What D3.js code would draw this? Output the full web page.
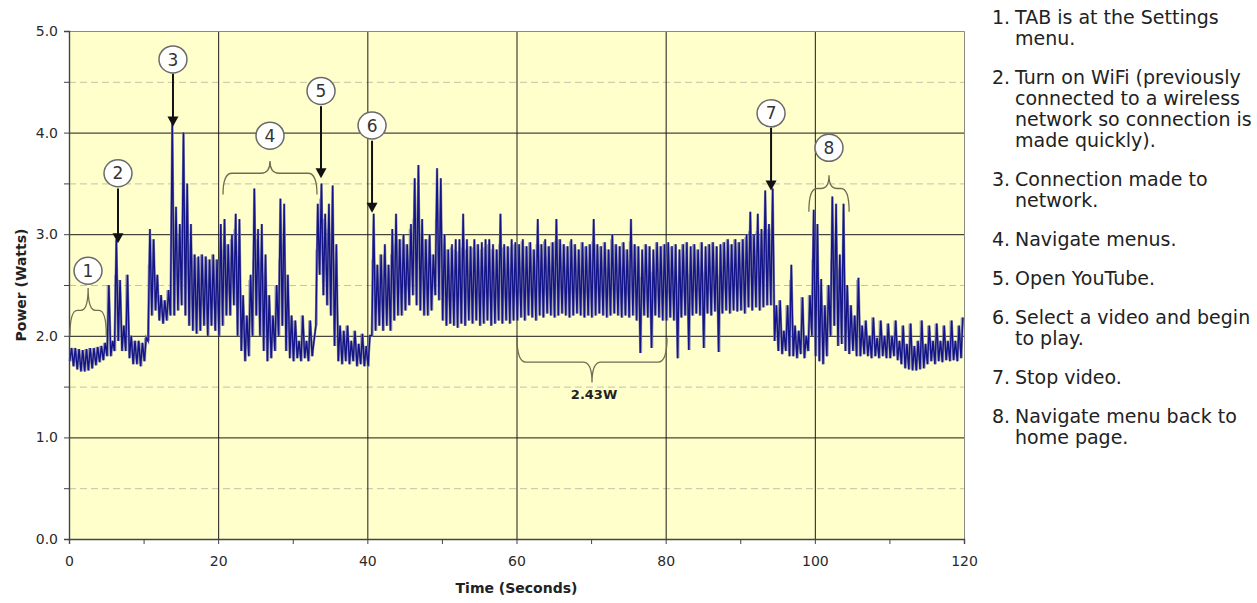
<!DOCTYPE html>
<html>
<head>
<meta charset="utf-8">
<script src="https://cdn.jsdelivr.net/npm/d3@7"></script>
<style>
  body { margin: 0; background: #fff; }
  svg { display: block; font-family: "DejaVu Sans", Verdana, sans-serif; }
</style>
</head>
<body>
<div id="chart"></div>
<script>
// Power trace in 0.5 s bins: a low and a high reading (W) for each bin
const binSeconds = 0.5;
const lowWatts = [
  1.75, 1.70, 1.67, 1.65, 1.65, 1.66, 1.68, 1.71, 1.74, 1.76, 1.80, 1.80, 1.85, 1.95, 1.85, 1.85, 1.78, 1.72, 1.72, 1.70,
  1.75, 1.95, 2.20, 2.25, 2.15, 2.12, 2.15, 2.20, 2.20, 2.25, 2.30, 2.20, 2.10, 2.05, 2.02, 2.05, 2.10, 2.00, 2.10, 2.05,
  2.00, 2.10, 2.20, 2.20, 2.30, 2.00, 1.85, 1.75, 1.80, 2.00, 2.20, 2.00, 1.85, 1.75, 1.78, 1.85, 2.00, 2.10, 1.85, 1.78,
  1.75, 1.78, 1.75, 1.78, 1.75, 1.80, 2.10, 2.60, 2.40, 2.30, 2.20, 1.90, 1.75, 1.72, 1.75, 1.72, 1.75, 1.70, 1.72, 1.70,
  1.70, 2.00, 2.05, 2.10, 2.05, 2.10, 2.05, 2.15, 2.20, 2.20, 2.25, 2.30, 2.40, 2.30, 2.25, 2.20, 2.20, 2.25, 2.40, 2.35,
  2.15, 2.10, 2.12, 2.10, 2.08, 2.12, 2.10, 2.15, 2.12, 2.15, 2.10, 2.12, 2.15, 2.10, 2.12, 2.15, 2.12, 2.15, 2.12, 2.15,
  2.15, 2.18, 2.15, 2.20, 2.18, 2.15, 2.20, 2.18, 2.22, 2.20, 2.18, 2.20, 2.22, 2.20, 2.18, 2.20, 2.22, 2.20, 2.18, 2.20,
  2.18, 2.20, 2.22, 2.20, 2.18, 2.20, 2.22, 2.20, 2.18, 2.20, 2.18, 2.20, 2.15, 1.83, 2.20, 2.18, 1.88, 2.20, 2.18, 2.15,
  2.15, 2.18, 2.15, 1.78, 2.18, 2.20, 1.86, 2.20, 2.22, 2.20, 1.88, 2.22, 2.20, 2.24, 1.84, 2.22, 2.25, 2.22, 2.25, 2.24,
  2.25, 2.22, 2.28, 2.25, 2.28, 2.25, 2.28, 2.30, 2.30, 1.95, 1.85, 1.82, 1.85, 1.80, 1.80, 1.78, 1.82, 1.78, 1.85, 2.00,
  1.80, 1.75, 1.72, 1.80, 2.00, 2.10, 1.90, 1.92, 1.85, 1.82, 1.85, 1.80, 1.80, 1.82, 1.80, 1.78, 1.80, 1.78, 1.80, 1.78,
  1.78, 1.80, 1.76, 1.72, 1.68, 1.67, 1.66, 1.66, 1.67, 1.68, 1.72, 1.75, 1.72, 1.75, 1.74, 1.76, 1.75, 1.76, 1.75, 1.78
];
const highWatts = [
  1.88, 1.88, 1.87, 1.86, 1.87, 1.88, 1.88, 1.89, 1.90, 1.93, 2.50, 1.95, 2.95, 2.55, 2.10, 2.60, 2.00, 1.95, 1.95, 1.93,
  1.98, 3.05, 2.95, 2.60, 2.40, 2.35, 2.45, 4.10, 3.27, 3.10, 4.00, 3.50, 3.10, 2.80, 2.78, 2.80, 2.78, 2.75, 2.80, 2.75,
  3.10, 3.15, 2.90, 3.00, 3.20, 3.15, 2.40, 2.20, 2.60, 3.45, 3.05, 3.10, 2.80, 2.40, 2.20, 2.50, 3.35, 3.30, 2.60, 2.20,
  2.15, 1.95, 2.20, 1.95, 2.15, 1.95, 3.30, 3.50, 3.20, 3.30, 3.48, 2.90, 2.10, 2.05, 2.10, 1.95, 2.05, 1.92, 2.02, 1.90,
  2.00, 3.20, 2.70, 2.80, 2.90, 2.70, 3.05, 3.20, 2.95, 3.00, 2.90, 3.10, 3.55, 3.68, 3.15, 2.95, 3.00, 2.80, 3.65, 3.55,
  3.00, 2.85, 2.90, 2.95, 2.95, 3.20, 2.95, 2.88, 2.95, 2.90, 2.92, 2.95, 2.95, 2.90, 2.85, 3.20, 2.90, 2.88, 2.95, 2.92,
  2.90, 2.95, 2.88, 2.92, 2.85, 3.15, 2.90, 2.95, 2.88, 2.92, 3.15, 2.95, 2.90, 2.88, 2.95, 2.90, 2.85, 2.92, 2.88, 2.90,
  3.15, 2.90, 2.88, 2.92, 2.85, 3.00, 2.90, 2.88, 2.92, 2.85, 3.15, 2.90, 2.88, 2.85, 2.90, 2.88, 2.85, 2.92, 2.88, 2.90,
  2.92, 2.88, 2.90, 2.85, 2.90, 2.92, 2.88, 2.90, 2.85, 2.92, 2.88, 2.90, 2.92, 2.88, 2.90, 2.92, 2.95, 2.90, 2.95, 2.92,
  2.95, 3.00, 3.22, 3.00, 3.20, 3.05, 3.43, 3.10, 3.45, 2.30, 2.35, 2.05, 2.30, 2.70, 2.10, 2.05, 2.38, 2.00, 2.40, 3.24,
  3.10, 2.56, 2.30, 2.50, 3.37, 3.30, 2.80, 3.30, 2.50, 2.30, 2.20, 2.57, 2.10, 2.15, 2.00, 2.18, 1.98, 2.15, 2.00, 2.12,
  2.00, 2.15, 1.95, 2.10, 1.92, 2.12, 1.90, 1.95, 2.15, 1.92, 2.10, 1.95, 2.12, 1.95, 2.10, 1.95, 2.15, 1.95, 2.10, 2.18
];

const xTicks = [0, 10, 20, 30, 40, 50, 60, 70, 80, 90, 100, 110, 120];
const yTicks = [0, 0.5, 1, 1.5, 2, 2.5, 3, 3.5, 4, 4.5, 5];

// numbered callouts (seconds, watts)
const callouts = [
  { n: '1', t: 2.55, w: 2.64 }, { n: '2', t: 6.57, w: 3.60 }, { n: '3', t: 13.94, w: 4.72 },
  { n: '4', t: 26.95, w: 3.97 }, { n: '5', t: 33.79, w: 4.41 }, { n: '6', t: 40.63, w: 4.07 },
  { n: '7', t: 94.13, w: 4.19 }, { n: '8', t: 101.9, w: 3.85 }
];
const arrows = [
  { t: 6.57, from: 3.45, to: 2.91 }, { t: 13.94, from: 4.58, to: 4.06 },
  { t: 33.79, from: 4.26, to: 3.55 }, { t: 40.63, from: 3.92, to: 3.21 },
  { t: 94.13, from: 4.05, to: 3.43 }
];
// braces: span in seconds, level of the bar, level of the ends and of the point
const braces = [
  { t0: 0.13, t1: 5.0, bar: 2.25, ends: 2.0, tip: 2.47 },
  { t0: 20.65, t1: 33.25, bar: 3.60, ends: 3.39, tip: 3.72 },
  { t0: 99.2, t1: 104.6, bar: 3.45, ends: 3.22, tip: 3.58 },
  { t0: 60.07, t1: 80.18, bar: 1.74, ends: 1.98, tip: 1.54 }
];
const avgLabel = { text: '2.43W', t: 70.4, w: 1.38 };

const steps = [
  { n: '1.', lines: ['TAB is at the Settings', 'menu.'] },
  { n: '2.', lines: ['Turn on WiFi (previously', 'connected to a wireless', 'network so connection is', 'made quickly).'] },
  { n: '3.', lines: ['Connection made to', 'network.'] },
  { n: '4.', lines: ['Navigate menus.'] },
  { n: '5.', lines: ['Open YouTube.'] },
  { n: '6.', lines: ['Select a video and begin', 'to play.'] },
  { n: '7.', lines: ['Stop video.'] },
  { n: '8.', lines: ['Navigate menu back to', 'home page.'] }
];

class PowerChart {
  constructor(selector) {
    this.svg = d3.select(selector).append('svg')
      .attr('width', 1257)
      .attr('height', 603);
    this.box = { left: 69, right: 964, top: 31, bottom: 539 };
  }

  setScales() {
    const b = this.box;
    this.x = d3.scaleLinear().domain([0, 120]).range([b.left, b.right]);
    this.y = d3.scaleLinear().domain([0, 5]).range([b.bottom, b.top]);
  }

  drawGrid() {
    const { x, y, box } = this;
    const g = this.svg.append('g').attr('class', 'grid');

    g.append('rect')
      .attr('x', box.left).attr('y', box.top)
      .attr('width', box.right - box.left).attr('height', box.bottom - box.top)
      .attr('fill', '#ffffcc');

    // dashed half-watt lines
    g.selectAll('.dash')
      .data(yTicks.filter((d) => !Number.isInteger(d)))
      .join('line')
      .attr('x1', box.left).attr('x2', box.right)
      .attr('y1', (d) => y(d) + 0.5).attr('y2', (d) => y(d) + 0.5)
      .attr('stroke', '#c4c2a8')
      .attr('stroke-dasharray', '7,4');

    g.selectAll('.hmajor')
      .data([1, 2, 3, 4])
      .join('line')
      .attr('x1', box.left).attr('x2', box.right)
      .attr('y1', (d) => y(d) + 0.5).attr('y2', (d) => y(d) + 0.5)
      .attr('stroke', '#1a1a1a');

    g.selectAll('.vmajor')
      .data([20, 40, 60, 80, 100])
      .join('line')
      .attr('x1', (d) => x(d) + 0.5).attr('x2', (d) => x(d) + 0.5)
      .attr('y1', box.top).attr('y2', box.bottom)
      .attr('stroke', '#1a1a1a');

    // top and right border
    g.append('path')
      .attr('d', `M${box.left},${box.top + 0.5}H${box.right + 0.5}V${box.bottom}`)
      .attr('fill', 'none')
      .attr('stroke', '#8a8a80');
  }

  drawTrace() {
    const { x, y } = this;
    const g = this.svg.append('g').attr('class', 'trace');

    // range of each bin as a soft band, so the dense trace reads as filled
    const bins = lowWatts.map((lo, i) => ({ t: i * binSeconds, lo, hi: highWatts[i] }));
    g.selectAll('.bin')
      .data(bins)
      .join('rect')
      .attr('x', (d) => x(d.t + 0.05))
      .attr('width', x(binSeconds * 0.6) - x(0))
      .attr('y', (d) => y(Math.min(d.hi, d.lo + 0.75)))
      .attr('height', (d) => y(d.lo) - y(Math.min(d.hi, d.lo + 0.75)))
      .attr('fill', '#2a2a90')
      .attr('opacity', 0.45);

    // zigzag low -> high inside each bin
    const pts = [];
    bins.forEach((d) => {
      pts.push([d.t + 0.1, d.lo]);
      pts.push([d.t + 0.35, d.hi]);
    });
    const line = d3.line().x((d) => x(d[0])).y((d) => y(d[1]));
    g.append('path')
      .attr('d', line(pts))
      .attr('fill', 'none')
      .attr('stroke', '#8c8ca6')
      .attr('stroke-width', 2.4);
    g.append('path')
      .attr('d', line(pts))
      .attr('fill', 'none')
      .attr('stroke', '#14148a')
      .attr('stroke-width', 1.4);
  }

  drawAxes() {
    const { x, y, box } = this;
    const yAxis = d3.axisLeft(y)
      .tickValues(yTicks)
      .tickSize(5)
      .tickPadding(6)
      .tickFormat((d) => (Number.isInteger(d) ? d3.format('.1f')(d) : ''));
    const xAxis = d3.axisBottom(x)
      .tickValues(xTicks)
      .tickSize(5)
      .tickPadding(12)
      .tickFormat((d) => (d % 20 === 0 ? d : ''));

    const gy = this.svg.append('g').attr('transform', `translate(${box.left},0)`).call(yAxis);
    const gx = this.svg.append('g').attr('transform', `translate(0,${box.bottom})`).call(xAxis);

    [gx, gy].forEach((g) => {
      g.select('.domain').attr('stroke', '#444').attr('stroke-width', 1.4);
      g.selectAll('.tick line').attr('stroke', '#444');
      g.selectAll('.tick text')
        .attr('fill', '#2a2a2a')
        .style('font-family', '"DejaVu Sans", Verdana, sans-serif')
        .style('font-size', '14px');
    });

    this.svg.append('text')
      .attr('x', x(60))
      .attr('y', 593)
      .attr('text-anchor', 'middle')
      .style('font-size', '14px')
      .style('font-weight', 'bold')
      .attr('fill', '#222')
      .text('Time (Seconds)');

    this.svg.append('text')
      .attr('transform', `translate(26,${y(2.5)}) rotate(-90)`)
      .attr('text-anchor', 'middle')
      .style('font-size', '14px')
      .style('font-weight', 'bold')
      .attr('fill', '#222')
      .text('Power (Watts)');
  }

  bracePath(d) {
    const { x, y } = this;
    const x0 = x(d.t0), x1 = x(d.t1), xm = (x0 + x1) / 2;
    const yb = y(d.bar), ye = y(d.ends), yt = y(d.tip);
    const r = Math.min(9, (x1 - x0) / 5);
    return `M${x0},${ye}Q${x0},${yb} ${x0 + r},${yb}` +
      `L${xm - r},${yb}Q${xm},${yb} ${xm},${yt}` +
      `Q${xm},${yb} ${xm + r},${yb}L${x1 - r},${yb}` +
      `Q${x1},${yb} ${x1},${ye}`;
  }

  drawNotes() {
    const { x, y } = this;
    const g = this.svg.append('g').attr('class', 'notes');

    g.selectAll('.brace')
      .data(braces)
      .join('path')
      .attr('d', (d) => this.bracePath(d))
      .attr('fill', 'none')
      .attr('stroke', '#6e6c52')
      .attr('stroke-width', 1.3);

    g.selectAll('.arrow-line')
      .data(arrows)
      .join('line')
      .attr('x1', (d) => x(d.t)).attr('x2', (d) => x(d.t))
      .attr('y1', (d) => y(d.from)).attr('y2', (d) => y(d.to) - 8)
      .attr('stroke', '#111')
      .attr('stroke-width', 2);

    g.selectAll('.arrow-head')
      .data(arrows)
      .join('path')
      .attr('d', (d) => {
        const ax = x(d.t), ay = y(d.to);
        return `M${ax - 5.5},${ay - 10}L${ax + 5.5},${ay - 10}L${ax},${ay}Z`;
      })
      .attr('fill', '#111');

    const c = g.selectAll('.callout')
      .data(callouts)
      .join('g')
      .attr('transform', (d) => `translate(${x(d.t)},${y(d.w)})`);
    c.append('ellipse')
      .attr('rx', 14).attr('ry', 13.5)
      .attr('fill', '#fff')
      .attr('stroke', '#6a6a6a')
      .attr('stroke-width', 1.5);
    c.append('text')
      .attr('text-anchor', 'middle')
      .attr('dy', '0.36em')
      .style('font-size', '17px')
      .attr('fill', '#333')
      .text((d) => d.n);

    g.append('text')
      .attr('x', x(avgLabel.t))
      .attr('y', y(avgLabel.w))
      .attr('text-anchor', 'middle')
      .style('font-size', '13px')
      .style('font-weight', 'bold')
      .attr('fill', '#222')
      .text(avgLabel.text);
  }

  drawSteps() {
    const g = this.svg.append('g').attr('class', 'steps');
    const lineH = 21;
    const gap = 39;
    let yc = 17;
    steps.forEach((s) => {
      g.append('text')
        .attr('x', 992).attr('y', yc).attr('dy', '0.36em')
        .style('font-size', '19px').attr('fill', '#222')
        .text(s.n);
      s.lines.forEach((ln, i) => {
        g.append('text')
          .attr('x', 1015).attr('y', yc + i * lineH).attr('dy', '0.36em')
          .style('font-size', '19px').attr('fill', '#222')
          .text(ln);
      });
      yc += (s.lines.length - 1) * lineH + gap;
    });
  }

  draw() {
    this.setScales();
    this.drawGrid();
    this.drawTrace();
    this.drawAxes();
    this.drawNotes();
    this.drawSteps();
    return this;
  }
}

new PowerChart('#chart').draw();
</script>
</body>
</html>
